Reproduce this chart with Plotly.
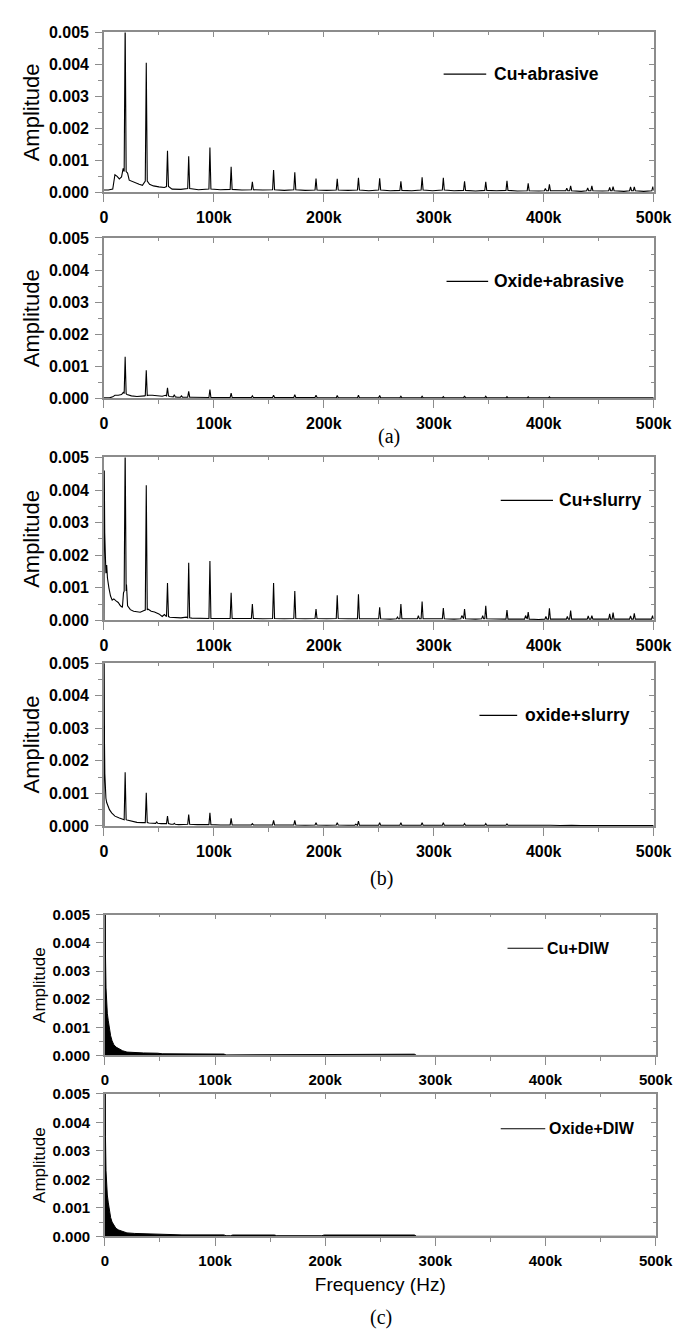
import plotly.graph_objects as go

W, H = 683, 1332

# ---------------- data (frequency in kHz, amplitude in units of 1e-3) ----------------
x_tickvals = [0, 100000, 200000, 300000, 400000, 500000]
x_ticktext = ["0", "100k", "200k", "300k", "400k", "500k"]
x_minor = [50000, 150000, 250000, 350000, 450000]
y_tickvals = [0.0, 0.001, 0.002, 0.003, 0.004, 0.005]
y_ticktext = ["0.000", "0.001", "0.002", "0.003", "0.004", "0.005"]
y_minor = [0.0005, 0.0015, 0.0025, 0.0035, 0.0045]

series_names = ["Cu+abrasive", "Oxide+abrasive", "Cu+slurry", "oxide+slurry", "Cu+DIW", "Oxide+DIW"]

# background (between peaks): (f_kHz, amp)
cu_abrasive_bg = [(0, 0.07), (4, 0.07), (8, 0.1), (10, 0.55), (12, 0.5), (14, 0.42), (16, 0.48),
                  (17.5, 0.75), (21.5, 0.6), (23, 0.38), (26, 0.33), (29, 0.3), (32, 0.25), (35, 0.22),
                  (41.5, 0.25), (45, 0.2), (50, 0.17), (55, 0.15), (62, 0.1), (70, 0.09), (86, 0.08),
                  (106, 0.08), (125.5, 0.07), (144.5, 0.07), (164, 0.06), (183, 0.06), (202.5, 0.06),
                  (222, 0.06), (241, 0.05), (260.5, 0.05), (280, 0.05), (299, 0.05), (318.5, 0.05),
                  (338, 0.04), (357, 0.05), (376, 0.04), (395.5, 0.04), (415, 0.04), (434, 0.03),
                  (453.5, 0.04), (473, 0.03), (491, 0.03)]
# peaks: (f_kHz, height, foot level)
cu_abrasive_pk = [(19.3, 5.3, 0.65), (38.5, 4.05, 0.35), (57.8, 1.3, 0.18), (77.1, 1.13, 0.12),
                  (96.4, 1.4, 0.1), (115.7, 0.8, 0.09), (135.0, 0.33, 0.08), (154.3, 0.7, 0.08),
                  (173.6, 0.63, 0.08), (192.9, 0.43, 0.07), (212.2, 0.42, 0.07), (231.5, 0.45, 0.07),
                  (250.8, 0.44, 0.07), (270.1, 0.34, 0.06), (289.4, 0.47, 0.07), (308.7, 0.45, 0.07),
                  (328.0, 0.34, 0.06), (347.3, 0.33, 0.06), (366.6, 0.36, 0.06), (385.9, 0.28, 0.05),
                  (401.5, 0.12, 0.05), (405.2, 0.25, 0.05), (421.0, 0.13, 0.05), (424.5, 0.2, 0.05),
                  (440.0, 0.14, 0.05), (443.8, 0.2, 0.05), (460.0, 0.15, 0.05), (463.1, 0.18, 0.05),
                  (479.0, 0.17, 0.05), (482.4, 0.17, 0.05), (499.3, 0.18, 0.05)]

oxide_abrasive_bg = [(0, 0.02), (5, 0.02), (8, 0.05), (10, 0.1), (13, 0.1), (16, 0.12), (17.8, 0.2),
                     (21, 0.12), (25, 0.08), (30, 0.06), (35, 0.06), (37, 0.08), (40.5, 0.1), (44, 0.1),
                     (47, 0.09), (50, 0.08), (53, 0.07), (56, 0.1), (60, 0.06), (67, 0.04), (74, 0.04),
                     (80, 0.04), (90, 0.03), (106, 0.03), (125.5, 0.03), (144.5, 0.03), (164, 0.03),
                     (183, 0.03), (202.5, 0.02), (222, 0.02), (241, 0.02), (260.5, 0.02), (280, 0.02),
                     (299, 0.02), (318.5, 0.02), (338, 0.02), (357, 0.02), (376, 0.02), (395.5, 0.02),
                     (415, 0.02), (434, 0.02), (453.5, 0.02), (473, 0.02), (491, 0.02)]
oxide_abrasive_pk = [(19.3, 1.3, 0.15), (38.5, 0.88, 0.09), (57.8, 0.33, 0.08), (64.0, 0.12, 0.05),
                     (70.5, 0.08, 0.04), (77.1, 0.22, 0.04), (96.4, 0.28, 0.03), (115.7, 0.17, 0.03),
                     (135.0, 0.08, 0.03), (150.0, 0.05, 0.03), (154.3, 0.1, 0.03), (173.6, 0.12, 0.03),
                     (192.9, 0.1, 0.03), (212.2, 0.09, 0.02), (231.5, 0.1, 0.02), (250.8, 0.09, 0.02),
                     (270.1, 0.07, 0.02), (289.4, 0.07, 0.02), (308.7, 0.06, 0.02), (328.0, 0.08, 0.02),
                     (347.3, 0.07, 0.02), (366.6, 0.06, 0.02), (385.9, 0.05, 0.02), (405.2, 0.05, 0.02),
                     (424.5, 0.04, 0.02), (443.8, 0.04, 0.02), (463.1, 0.03, 0.02), (482.4, 0.04, 0.02),
                     (499.3, 0.04, 0.02)]

cu_slurry_bg = [(0, 0.0), (0.3, 4.6), (0.7, 2.7), (1.2, 2.1), (1.8, 1.45), (2.5, 1.7), (3.2, 1.3),
                (4.5, 1.0), (6, 0.75), (7.5, 0.62), (9, 0.66), (11, 0.6), (13, 0.55), (15, 0.45),
                (16.8, 0.4), (17.8, 0.85), (20.5, 1.1), (21.5, 0.45), (24, 0.33), (27, 0.28), (30, 0.27),
                (33, 0.25), (36, 0.3), (40, 0.35), (43, 0.28), (46, 0.26), (50, 0.2), (53, 0.12),
                (55, 0.18), (60, 0.1), (65, 0.09), (70, 0.08), (75, 0.1), (80, 0.07), (88, 0.06),
                (106, 0.06), (125.5, 0.06), (144.5, 0.05), (164, 0.05), (183, 0.05), (202.5, 0.05),
                (222, 0.05), (241, 0.05), (260.5, 0.04), (280, 0.04), (299, 0.04), (318.5, 0.04),
                (338, 0.04), (357, 0.04), (376, 0.04), (395.5, 0.03), (415, 0.03), (434, 0.03),
                (453.5, 0.03), (473, 0.03), (491, 0.03)]
cu_slurry_pk = [(19.3, 5.3, 0.9), (38.5, 4.15, 0.32), (57.8, 1.15, 0.12), (77.1, 1.77, 0.08),
                (96.4, 1.82, 0.06), (115.7, 0.85, 0.06), (135.0, 0.5, 0.06), (154.3, 1.15, 0.06),
                (173.6, 0.9, 0.06), (192.9, 0.35, 0.06), (212.2, 0.77, 0.06), (231.5, 0.8, 0.05),
                (250.8, 0.4, 0.05), (267.0, 0.1, 0.05), (270.1, 0.5, 0.05), (286.0, 0.15, 0.05),
                (289.4, 0.58, 0.05), (308.7, 0.38, 0.05), (325.5, 0.15, 0.05), (328.0, 0.35, 0.05),
                (344.5, 0.15, 0.05), (347.3, 0.45, 0.05), (366.6, 0.32, 0.04), (383.5, 0.15, 0.04),
                (385.9, 0.26, 0.04), (402.0, 0.12, 0.04), (405.2, 0.37, 0.04), (421.5, 0.12, 0.04),
                (424.5, 0.3, 0.04), (440.5, 0.14, 0.04), (443.8, 0.15, 0.04), (460.0, 0.2, 0.04),
                (463.1, 0.24, 0.04), (479.0, 0.14, 0.04), (482.4, 0.22, 0.04), (499.0, 0.15, 0.04)]

oxide_slurry_bg = [(0, 0.0), (0.2, 5.3), (0.5, 2.5), (0.8, 1.6), (1.2, 1.1), (1.8, 0.85), (2.5, 0.72),
                   (3.5, 0.62), (5, 0.5), (7, 0.4), (10, 0.3), (14, 0.24), (17, 0.2), (21, 0.18),
                   (25, 0.14), (30, 0.11), (35, 0.1), (41, 0.09), (45, 0.09), (52, 0.07), (55, 0.08),
                   (61, 0.05), (68, 0.04), (72, 0.05), (85, 0.04), (93, 0.04), (106, 0.03),
                   (125.5, 0.03), (144.5, 0.03), (164, 0.03), (183, 0.02), (202.5, 0.02), (222, 0.02),
                   (241, 0.02), (260.5, 0.02), (280, 0.02), (299, 0.02), (318.5, 0.02), (338, 0.02),
                   (357, 0.02), (376, 0.02), (395.5, 0.02), (415, 0.015), (434, 0.015), (453.5, 0.015),
                   (473, 0.015), (491, 0.015), (500, 0.015)]
oxide_slurry_pk = [(19.3, 1.65, 0.19), (38.5, 1.02, 0.1), (48.0, 0.12, 0.08), (57.8, 0.3, 0.07),
                   (64.0, 0.08, 0.05), (77.1, 0.35, 0.05), (96.4, 0.4, 0.04), (115.7, 0.23, 0.03),
                   (135.0, 0.07, 0.03), (150.0, 0.04, 0.02), (154.3, 0.17, 0.03), (173.6, 0.17, 0.03),
                   (192.9, 0.1, 0.03), (212.2, 0.1, 0.03), (229.0, 0.05, 0.02), (231.5, 0.15, 0.02),
                   (250.8, 0.1, 0.02), (270.1, 0.1, 0.02), (289.4, 0.1, 0.02), (308.7, 0.1, 0.02),
                   (328.0, 0.07, 0.02), (347.3, 0.07, 0.02), (366.6, 0.06, 0.02), (385.9, 0.04, 0.02),
                   (405.2, 0.03, 0.02), (424.5, 0.04, 0.02), (443.8, 0.03, 0.02), (482.4, 0.025, 0.015)]

# DIW spectra: upper envelope of the dense noise band (filled down to zero)
cu_diw_env = [(0, 0.0), (0.2, 5.3), (0.5, 3.6), (1.0, 2.4), (1.5, 1.9), (2.2, 1.5), (3.0, 1.25),
              (3.7, 1.04), (4.5, 0.85), (5.2, 0.7), (6.5, 0.52), (8, 0.39), (10, 0.3), (12.5, 0.24),
              (16, 0.17), (20, 0.12), (27, 0.1), (35, 0.09), (48, 0.08), (52, 0.06), (80, 0.055),
              (108, 0.05), (110, 0.02), (114, 0.02), (116, 0.045), (154, 0.045), (156, 0.02),
              (197, 0.02), (199, 0.045), (281, 0.045), (283, 0.0), (500, 0.0)]
oxide_diw_env = [(0, 0.0), (0.2, 5.3), (0.5, 3.5), (1.0, 2.3), (1.5, 1.8), (2.2, 1.45), (3.0, 1.2),
                 (3.7, 1.0), (4.5, 0.8), (5.2, 0.66), (6.5, 0.5), (8, 0.38), (10, 0.28), (12.5, 0.22),
                 (16, 0.16), (20, 0.12), (27, 0.1), (35, 0.09), (48, 0.08), (68, 0.07), (70, 0.05),
                 (108, 0.05), (110, 0.02), (114, 0.02), (116, 0.045), (154, 0.045), (156, 0.02),
                 (197, 0.02), (199, 0.045), (281, 0.045), (283, 0.0), (500, 0.0)]


def build(bg, pk, w=0.9):
    pts = list(bg)
    for f, h, ft in pk:
        pts += [(f - w, ft), (f, h), (f + w, ft)]
    pts.sort(key=lambda p: p[0])
    return [p[0] * 1000 for p in pts], [p[1] * 1e-3 for p in pts]


def env(points):
    return [p[0] * 1000 for p in points], [p[1] * 1e-3 for p in points]


curves = [build(cu_abrasive_bg, cu_abrasive_pk), build(oxide_abrasive_bg, oxide_abrasive_pk),
          build(cu_slurry_bg, cu_slurry_pk), build(oxide_slurry_bg, oxide_slurry_pk),
          env(cu_diw_env), env(oxide_diw_env)]

# ---------------- layout (pixel geometry) ----------------
panels = [  # x0, x1, top, bottom
    (95, 663, 15.7, 177.7),
    (95, 663, 224, 386.7),
    (95, 663, 446.5, 611.7),
    (95, 663, 655, 820),
    (96, 665, 910, 1052.7),
    (96, 665, 1091.7, 1236),
]
legend_pos = [  # line x0, line x1, text x, y
    (446, 490, 496, 58),
    (449, 492, 496, 268),
    (505, 559, 563, 490),
    (483, 522, 528, 708),
    (512, 549, 551, 944),
    (505, 551, 553, 1127),
]

FRAME = "#8c8c8c"
SANS = "Liberation Sans, Arial, sans-serif"
SERIF = "Liberation Serif, Times New Roman, serif"

fig = go.Figure()
layout = dict(width=W, height=H, margin=dict(l=0, r=0, t=0, b=0),
              paper_bgcolor="white", plot_bgcolor="white", showlegend=False)
shapes, annotations = [], []

for i, ((x0, x1, top, bot), (fx, fy)) in enumerate(zip(panels, curves)):
    n = i + 1
    small = i >= 4
    tick_size = 15 if small else 16
    xa, ya = f"x{n}", f"y{n}"
    xo, yo = n + 6, n + 6
    dom_x = [x0 / W, x1 / W]
    dom_y = [1 - bot / H, 1 - top / H]
    tickfont = dict(family=SANS, size=tick_size, color="black", weight="bold")
    layout[f"xaxis{n}"] = dict(
        domain=dom_x, anchor=ya, range=[0, 500000], tickmode="array",
        tickvals=x_tickvals, ticktext=x_ticktext, ticks="outside", ticklen=8, tickwidth=1.2,
        tickcolor=FRAME, minor=dict(tickmode="array", tickvals=x_minor, ticks="outside",
                                    ticklen=4, tickwidth=1.2, tickcolor=FRAME),
        showline=True, linecolor=FRAME, linewidth=1.5, showgrid=False, zeroline=False,
        tickfont=tickfont, ticklabelstandoff=2, fixedrange=True)
    layout[f"yaxis{n}"] = dict(
        domain=dom_y, anchor=xa, range=[0, 0.005], tickmode="array",
        tickvals=y_tickvals, ticktext=y_ticktext, ticks="outside", ticklen=7, tickwidth=1.2,
        tickcolor=FRAME, minor=dict(tickmode="array", tickvals=y_minor, ticks="outside",
                                    ticklen=4, tickwidth=1.2, tickcolor=FRAME),
        showline=True, linecolor=FRAME, linewidth=1.5, showgrid=False, zeroline=False,
        tickfont=tickfont, ticklabelstandoff=3, fixedrange=True,
        title=dict(text="Amplitude", font=dict(family=SANS, size=17 if small else 22, color="black"),
                   standoff=3))
    # top / right frame with inward ticks
    layout[f"xaxis{xo}"] = dict(
        overlaying=xa, side="top", anchor=ya, range=[0, 500000], tickmode="array",
        tickvals=x_tickvals, ticks="inside", ticklen=5, tickwidth=1.2, tickcolor=FRAME,
        minor=dict(tickmode="array", tickvals=x_minor, ticks="inside", ticklen=3,
                   tickwidth=1.2, tickcolor=FRAME),
        showticklabels=False, showline=True, linecolor=FRAME, linewidth=1.5,
        showgrid=False, zeroline=False, fixedrange=True)
    layout[f"yaxis{yo}"] = dict(
        overlaying=ya, side="right", anchor=xa, range=[0, 0.005], tickmode="array",
        tickvals=y_tickvals, ticks="inside", ticklen=5, tickwidth=1.2, tickcolor=FRAME,
        minor=dict(tickmode="array", tickvals=y_minor, ticks="inside", ticklen=3,
                   tickwidth=1.2, tickcolor=FRAME),
        showticklabels=False, showline=True, linecolor=FRAME, linewidth=1.5,
        showgrid=False, zeroline=False, fixedrange=True)

    if small:
        fig.add_trace(go.Scatter(x=fx, y=fy, mode="lines", name=series_names[i],
                                 line=dict(color="black", width=1), fill="tozeroy",
                                 fillcolor="black", xaxis=xa, yaxis=ya, hoverinfo="skip"))
    else:
        fig.add_trace(go.Scatter(x=fx, y=fy, mode="lines", name=series_names[i],
                                 line=dict(color="black", width=1.1), xaxis=xa, yaxis=ya,
                                 hoverinfo="skip"))
    fig.add_trace(go.Scatter(x=[None], y=[None], xaxis=f"x{xo}", yaxis=ya, showlegend=False,
                             hoverinfo="skip"))
    fig.add_trace(go.Scatter(x=[None], y=[None], xaxis=xa, yaxis=f"y{yo}", showlegend=False,
                             hoverinfo="skip"))

    lx0, lx1, tx, ty = legend_pos[i]
    shapes.append(dict(type="line", xref="paper", yref="paper", x0=lx0 / W, x1=lx1 / W,
                       y0=1 - ty / H, y1=1 - ty / H, line=dict(color="black", width=1.2)))
    annotations.append(dict(text=series_names[i], xref="paper", yref="paper", x=tx / W,
                            y=1 - ty / H, xanchor="left", yanchor="middle", showarrow=False,
                            font=dict(family=SANS, size=16 if small else 17.5, color="black",
                                      weight="bold")))

layout["xaxis6"]["title"] = dict(text="Frequency (Hz)",
                                 font=dict(family=SANS, size=19, color="black"), standoff=10)

captions = [("(a)", 390, 425), ("(b)", 382, 873), ("(c)", 381, 1318)]
for txt, cx, cy in captions:
    annotations.append(dict(text=txt, xref="paper", yref="paper", x=cx / W, y=1 - cy / H,
                            xanchor="center", yanchor="middle", showarrow=False,
                            font=dict(family=SERIF, size=20, color="black")))

layout["shapes"] = shapes
layout["annotations"] = annotations
fig.update_layout(**layout)
fig.write_html("out.html")
